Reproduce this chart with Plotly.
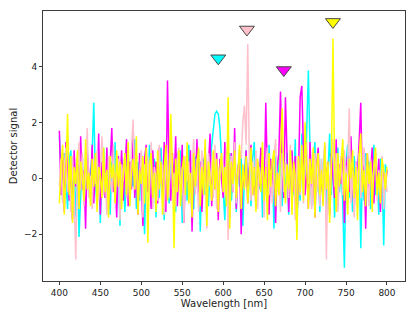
import plotly.graph_objects as go

# Wavelength grid (nm), step 2
wavelength = [400 + 2 * i for i in range(201)]

cyan_signal = [
    1.5, 0.4, -0.8, 0.9, -0.3, -1.1, 0.6, 1.0, -0.5, 0.2, -1.4, 0.7, -2.1, -0.4, 0.8, -0.9, 0.3, 1.2, -0.6, 0.1,
    0.9, 2.7, -0.2, -1.0, 0.5, -1.6, 0.4, 1.1, -0.7, 0.0, 0.8, -1.3, 0.6, -0.4, 1.3, -0.9, 0.2, -1.7, 0.7, 0.3,
    -1.2, 0.5, 1.0, -0.6, 0.2, -0.3, 1.4, -1.1, 0.6, -0.8, 0.9, 0.1, -2.0, 0.4, -0.5, 1.2, -1.0, 0.3, 0.7, -1.4,
    0.6, -0.7, 1.1, -0.2, -1.5, 0.8, 0.3, -0.9, 1.3, -0.4, 0.5, -1.2, 0.9, -0.1, 1.0, -1.6, 0.2, 0.6, -0.8, 1.2,
    -0.5, 0.4, -1.1, 0.8, -0.3, 1.0, -1.9, 0.2, 0.7, -0.6, 0.3, -1.0, 0.5, 1.2, 1.9, 2.3, 2.4, 2.3, 1.8, 0.9,
    -0.4, -1.5, 0.6, -0.2, 0.9, -0.8, 0.3, 1.1, -1.2, 0.5, -0.3, 0.8, -1.7, 0.2, 1.0, -0.6, 0.4, -1.0, 0.7, 1.3,
    -0.9, 0.3, -0.4, 1.0, -1.4, 0.6, 0.1, -0.7, 1.2, -0.3, 0.5, -1.8, 0.8, -0.2, 0.4, 1.1, -1.0, 0.2, -0.5, 0.9,
    -1.3, 0.4, 0.9, -0.6, 1.4, -1.9, 0.3, -0.8, 1.6, 0.2, -0.4, 1.5, 3.85, 1.0, -1.0, 0.6, 1.3, -0.5, 0.2, -1.2,
    0.7, -0.3, 1.0, -1.1, 0.4, 1.6, -0.6, 0.8, -1.4, 0.2, 1.1, -0.5, 0.3, -0.9, -3.2, 0.5, 1.2, -0.7, 0.4, -1.2,
    0.8, -0.4, 0.2, 1.0, -2.5, 0.3, -0.8, 0.9, -0.2, 0.6, -1.1, 0.4, 1.2, -0.6, 0.1, -1.3, 0.7, 0.3, -2.4, 0.5,
    0.2,
]

magenta_signal = [
    1.7, -0.6, 0.9, -1.2, 1.3, 0.2, -0.8, 0.5, -1.5, 1.0, -0.3, 0.7, -1.0, 1.5, -0.4, 0.3, -1.8, 0.9, 0.1, -0.6,
    1.2, -0.9, 0.4, -0.2, 1.6, -1.3, 0.6, 0.0, -0.7, 1.1, -1.1, 0.5, 1.8, -0.5, 0.2, -1.4, 0.8, -0.3, 1.0, -0.8,
    0.3, 1.4, -1.0, 0.6, -0.4, 1.9, -0.7, 0.2, -1.3, 0.9, -0.1, -1.7, 0.7, 1.2, -0.5, 0.4, -1.1, 1.0, -0.2, 0.6,
    -0.9, 1.1, 0.2, -0.6, 1.3, -1.2, 3.5, 0.4, -0.8, 0.9, -0.3, 1.5, -1.0, 0.5, -0.2, 1.2, -1.6, 0.3, 0.8, -0.5,
    1.0, -1.9, 0.4, -0.3, 1.4, -0.8, 0.6, -1.2, 0.2, 1.1, -0.6, 0.3, 1.6, -1.0, 0.5, -0.4, 0.9, -1.5, 0.7, 0.0,
    -0.7, 1.3, -0.2, 0.6, -1.4, 0.9, -0.5, 1.8, -1.1, 0.3, 0.7, -2.0, 0.4, -0.3, 1.0, -0.9, 0.5, 1.2, -0.6, 0.2,
    -1.0, 0.6, -0.3, 1.1, 0.2, -0.8, 2.7, 0.1, -1.3, 0.7, -0.4, 1.0, -1.6, 0.4, 0.9, 3.1, 0.3, -0.7, 2.9, 0.5,
    -1.2, 0.4, 1.0, -0.5, 0.8, -1.5, 0.2, 2.9, 3.3, 1.0, -0.6, 0.5, -1.1, 1.3, -0.3, 0.7, -1.4, 0.4, 1.1, -0.8,
    0.3, -0.9, 1.2, -0.4, 0.6, -1.3, 0.9, 0.1, -0.7, 1.4, -1.0, 0.5, -0.2, 1.0, -1.6, 0.4, 0.8, -0.5, 1.5, -0.3,
    -1.1, 0.6, 0.2, 1.3, 2.7, -0.4, 0.5, -1.8, 0.9, -0.6, 0.3, 1.1, -0.9, 0.4, -0.2, 0.7, -1.2, 0.6, 0.1, -0.4,
    0.3,
]

pink_signal = [
    -0.3, 0.7, -0.9, 0.4, 1.1, -0.5, 0.2, -1.2, 0.8, -0.6, -2.9, 0.5, 1.3, -0.4, 0.9, -1.0, 0.3, 1.8, -0.7, 0.1,
    -1.1, 0.6, -0.2, 1.0, -0.8, 0.4, 1.5, -0.6, 0.2, -1.3, 0.8, 0.0, -0.5, 1.2, -0.9, 0.3, 0.7, -1.5, 0.5, -0.1,
    0.9, -0.7, 0.3, -1.0, 1.1, 2.1, -0.4, 0.6, -0.9, 0.2, 1.0, -1.4, 0.5, -0.3, 0.8, -0.6, 1.3, -1.1, 0.4, 0.0,
    -0.8, 1.2, -0.2, 0.5, -1.3, 0.9, 0.3, -0.7, 1.6, -0.4, 0.2, -1.0, 0.7, 1.1, -0.5, 0.4, -1.6, 0.8, -0.1, 0.6,
    -0.9, 0.3, 1.4, -0.6, 0.7, -1.2, 0.2, 1.0, -0.4, 0.5, -1.8, 0.9, -0.3, 0.6, -0.7, 1.2, -1.1, 0.4, 0.0, 0.8,
    0.4, -0.6, 1.1, -2.2, 0.3, 0.8, -0.5, 1.3, -0.9, 0.2, 1.0, 0.7, 2.0, 2.6, 1.2, 4.8, 0.5, -0.8, 0.6, -0.3,
    1.0, -1.1, 0.4, -0.2, 0.8, -1.4, 0.5, 1.1, -0.6, 0.3, -0.9, 0.7, 1.4, -0.4, 0.2, -1.2, 0.9, -0.5, 0.6, 0.1,
    -0.7, 1.2, -0.3, 0.5, -1.5, 0.8, 0.0, -0.6, 1.0, -0.9, 0.4, 1.3, -0.2, 0.6, -1.1, 0.3, 0.9, -0.5, 0.2, -1.0,
    0.7, -0.4, 1.1, -2.9, 0.4, -0.8, 0.6, 1.4, -0.3, 0.9, -1.2, 0.2, 0.8, -0.6, 1.0, -0.2, 0.5, 2.5, -0.9, 0.3,
    -1.4, 0.6, -0.2, 0.9, -0.7, 0.4, 1.1, -0.5, 0.2, -1.0, 0.7, -0.3, 0.5, 1.0, -0.8, 0.3, -0.4, 0.8, -1.1, 0.2,
    -0.5,
]

yellow_signal = [
    -0.9, 0.5, 1.2, -1.3, 0.3, 2.3, -0.6, 0.8, -1.6, 0.4, -0.2, 1.0, -1.1, 0.6, 0.1, -0.8, 1.4, -0.4, 0.2, -1.0,
    0.7, -0.3, 0.9, -1.2, 0.4, 0.1, -0.7, 1.1, -0.5, 0.3, -1.4, 0.8, 0.0, 0.5, -0.9, 1.0, -0.3, 0.6, -1.1, 0.2,
    0.9, -0.6, 1.3, -1.0, 0.2, 0.7, -0.4, 1.5, -1.3, 0.3, -0.2, 0.8, -0.9, 1.1, -2.3, 0.5, 0.9, -0.7, 0.2, -1.2,
    1.0, -0.4, 0.6, -1.3, 0.3, 1.2, -0.8, 0.1, 2.3, 0.4, -2.5, 0.7, -0.5, 1.0, -1.0, 0.3, 0.8, -0.6, 1.3, -0.9,
    0.2, -1.4, 0.9, -0.3, 0.5, 1.1, -1.0, 0.4, -0.6, 1.4, -1.7, 0.6, 0.0, -0.8, 1.0, -0.4, 0.7, -1.2, 0.3, 0.9,
    -0.5, 0.4, -1.0, 2.9, -1.8, 0.6, -0.2, 1.0, -0.7, 0.3, 1.2, -1.1, 0.5, -0.4, 0.8, -0.9, 0.2, 1.1, -0.6, 0.4,
    -1.2, 0.7, 0.1, -0.5, 1.3, -0.8, 0.4, -1.5, 0.9, -0.3, 0.6, 1.0, -1.0, 0.2, -0.6, 1.2, 2.5, 0.3, -0.9, 0.5,
    -0.4, 1.0, -1.3, 0.6, 0.1, -2.2, 0.8, -0.5, 1.2, -0.8, 2.0, 0.3, -1.1, 0.7, -0.2, 1.1, -1.4, 0.4, 0.9, -0.6,
    0.3, -1.0, 1.3, -0.4, 0.6, -1.6, 0.2, 5.0, 0.6, -1.2, 0.9, -0.3, 0.5, 1.4, -0.8, 0.2, -1.3, 0.7, 0.0, 1.0,
    -0.7, 0.4, -1.5, 0.8, 1.6, -0.5, 0.3, -1.0, 0.9, -0.2, 0.6, -1.2, 0.4, 1.1, -0.6, 0.2, -0.9, 0.7, 0.3, -0.4,
    0.4,
]

series_names = ["cyan", "magenta", "pink", "yellow"]
series_colors = ["#00FFFF", "#FF00FF", "#FFC0CB", "#FFFF00"]
series_values = [cyan_signal, magenta_signal, pink_signal, yellow_signal]

# Peak markers (cyan, pink, magenta, yellow)
marker_x = [594, 629, 674, 734]
marker_y = [4.29, 5.32, 3.87, 5.59]
marker_colors = ["#00FFFF", "#FFC0CB", "#FF00FF", "#FFFF00"]

x_ticks = [400, 450, 500, 550, 600, 650, 700, 750, 800]
y_ticks = [-2, 0, 2, 4]

fig = go.Figure()
for name, color, vals in zip(series_names, series_colors, series_values):
    fig.add_trace(go.Scatter(x=wavelength[:len(vals)], y=vals, mode="lines", name=name,
                             line=dict(color=color, width=1.5)))

fig.add_trace(go.Scatter(x=marker_x, y=marker_y, mode="markers",
                         marker=dict(symbol="triangle-down", size=13,
                                     color=marker_colors,
                                     line=dict(color="rgb(70,70,70)", width=1)),
                         showlegend=False))

axis_common = dict(showline=True, mirror=True, linecolor="rgb(60,60,60)", linewidth=1,
                   ticks="outside", ticklen=3, tickwidth=1, tickcolor="rgb(60,60,60)",
                   showgrid=False, zeroline=False, automargin=False,
                   tickfont=dict(family="DejaVu Sans", size=9, color="#222"))

# The page body adds an 8 px offset; the figure is sized to fill the rest of the window.
fig.update_layout(
    width=408, height=311,
    margin=dict(l=35, r=11, t=3, b=38),
    paper_bgcolor="white", plot_bgcolor="white",
    showlegend=False,
    font=dict(family="DejaVu Sans", size=9, color="#222"),
    xaxis=dict(range=[380, 822], tickvals=x_ticks,
               title=dict(text="Wavelength [nm]", font=dict(size=10), standoff=3),
               **axis_common),
    yaxis=dict(range=[-3.67, 5.98], tickvals=y_ticks,
               title=dict(text="Detector signal", font=dict(size=10), standoff=8),
               **axis_common),
)

fig.write_html("out.html")
